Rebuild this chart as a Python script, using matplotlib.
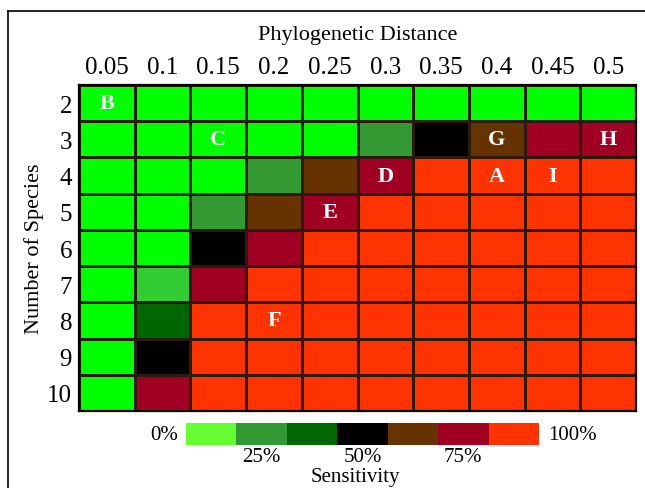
import numpy as np
import matplotlib.pyplot as plt
from matplotlib.colors import ListedColormap, BoundaryNorm
from matplotlib.lines import Line2D

plt.rcParams['font.family'] = ['Liberation Serif', 'DejaVu Serif']

distances = ['0.05', '0.1', '0.15', '0.2', '0.25', '0.3', '0.35', '0.4', '0.45', '0.5']
species = ['2', '3', '4', '5', '6', '7', '8', '9', '10']

# sensitivity class per cell (0 = 0%, ... 7 = 100%)
cells = [
    [0, 0, 0, 0, 0, 0, 0, 0, 0, 0],
    [0, 0, 0, 0, 0, 2, 4, 5, 6, 6],
    [0, 0, 0, 2, 5, 6, 7, 7, 7, 7],
    [0, 0, 2, 5, 6, 7, 7, 7, 7, 7],
    [0, 0, 4, 6, 7, 7, 7, 7, 7, 7],
    [0, 1, 6, 7, 7, 7, 7, 7, 7, 7],
    [0, 3, 7, 7, 7, 7, 7, 7, 7, 7],
    [0, 4, 7, 7, 7, 7, 7, 7, 7, 7],
    [0, 6, 7, 7, 7, 7, 7, 7, 7, 7],
]
cell_colors = ['#00FF00', '#33CC33', '#339933', '#006600', '#000000',
               '#663300', '#A00022', '#FF3300']

letters = ['B', 'C', 'G', 'H', 'D', 'A', 'I', 'E', 'F']
letter_rows = ['2', '3', '3', '3', '4', '4', '4', '5', '8']
letter_cols = ['0.05', '0.15', '0.4', '0.5', '0.3', '0.4', '0.45', '0.25', '0.2']

bar_colors = ['#66FF33', '#339933', '#006600', '#000000', '#663300', '#A00022', '#FF3300']
bar_ticks = ['0%', '25%', '50%', '75%', '100%']

W, H = 645, 489
fig = plt.figure(figsize=(W / 100, H / 100), dpi=100)

# main grid
x0, x1, y0, y1 = 79, 636, 86, 412
ax = fig.add_axes([x0 / W, 1 - y1 / H, (x1 - x0) / W, (y1 - y0) / H])
data = np.array(cells)
cmap = ListedColormap(cell_colors)
norm = BoundaryNorm(np.arange(-0.5, len(cell_colors)), cmap.N)
ax.pcolormesh(data, cmap=cmap, norm=norm, edgecolors='#2a1a10', linewidth=0.8)
ax.set_xlim(0, len(distances))
ax.set_ylim(len(species), 0)
ax.xaxis.tick_top()
ax.set_xticks(np.arange(len(distances)) + 0.5, distances, fontsize=18)
ax.set_yticks(np.arange(len(species)) + 0.5, species, fontsize=18)
ax.tick_params(length=0, pad=5)
ax.xaxis.set_label_position('top')
ax.set_xlabel('Phylogenetic Distance', fontsize=16, labelpad=12)
ax.set_ylabel('Number of Species', fontsize=16)
ax.yaxis.set_label_coords(-0.062, 0.5)
for s in ax.spines.values():
    s.set_linewidth(1.6)
    s.set_color('black')

for t, r, c in zip(letters, letter_rows, letter_cols):
    ax.text(distances.index(c) + 0.5, species.index(r) + 0.5, t, color='white',
            fontsize=16, fontweight='bold', ha='center', va='center')

# colour key
bx0, bx1, by0, by1 = 186, 539, 424, 446
cax = fig.add_axes([bx0 / W, 1 - by1 / H, (bx1 - bx0) / W, (by1 - by0) / H])
cax.pcolormesh(np.arange(len(bar_colors))[None, :], cmap=ListedColormap(bar_colors),
               norm=BoundaryNorm(np.arange(-0.5, len(bar_colors)), len(bar_colors)))
cax.set_xlim(0, len(bar_colors))
cax.set_axis_off()
seg = (bx1 - bx0) / len(bar_colors)
fig.text((bx0 - 8) / W, 1 - 436 / H, bar_ticks[0], ha='right', va='center', fontsize=15)
fig.text((bx1 + 9) / W, 1 - 436 / H, bar_ticks[-1], ha='left', va='center', fontsize=15)
for i, lab in zip([1, 3, 5], bar_ticks[1:4]):
    fig.text((bx0 + seg * (i + 0.5)) / W, 1 - 458 / H, lab, ha='center', va='center', fontsize=15)
fig.text(355 / W, 1 - 478 / H, 'Sensitivity', ha='center', va='center', fontsize=15)

# outer frame (left and top only)
fig.add_artist(Line2D([8 / W, 8 / W], [0, 1 - 12 / H], color='black', lw=1.2))
fig.add_artist(Line2D([8 / W, 1], [1 - 12 / H, 1 - 12 / H], color='black', lw=1.2))

fig.savefig('out.png', dpi=100)
